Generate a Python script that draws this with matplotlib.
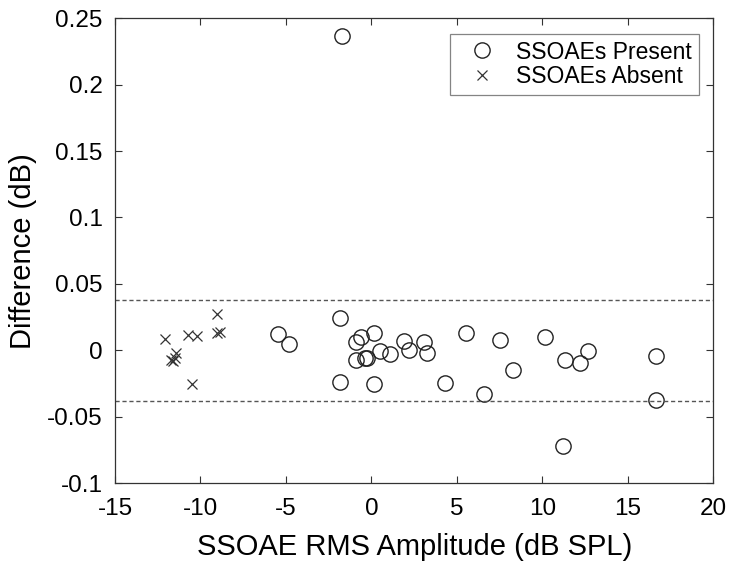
import matplotlib
matplotlib.use("Agg")
import matplotlib.pyplot as plt

plt.rcParams["font.family"] = ["Liberation Sans", "DejaVu Sans"]
plt.rcParams["axes.unicode_minus"] = False

# SSOAEs present (circles)
present_x = [-5.49, -4.81, -1.85, -1.85, -1.73, -0.89, -0.60, 0.14, -0.89, -0.35,
             -0.25, 0.49, 1.07, 1.93, 2.18, 3.06, 3.26, 0.16, 4.33, 5.56,
             6.57, 7.50, 8.28, 10.13, 11.18, 11.34, 12.18, 12.67, 16.64, 16.64]
present_y = [0.0121, 0.0045, 0.0246, -0.0242, 0.237, 0.0065, 0.0100, 0.0126, -0.0075, -0.0062,
             -0.0058, -0.0006, -0.0025, 0.0073, 0.0000, 0.0063, -0.0020, -0.0251, -0.0244, 0.0133,
             -0.0327, 0.0075, -0.0151, 0.0102, -0.0724, -0.0075, -0.0093, -0.0008, -0.0045, -0.0377]

# SSOAEs absent (crosses)
absent_x = [-12.08, -11.70, -11.58, -11.51, -11.45, -10.73, -10.18, -10.48, -9.06, -9.02, -8.87]
absent_y = [0.0082, -0.0070, -0.0080, -0.0055, -0.0020, 0.0118, 0.0105, -0.0251, 0.0272, 0.0128, 0.0138]

limit_hi = 0.038
limit_lo = -0.0385

fig = plt.figure(figsize=(7.31, 5.64), dpi=100)
ax = fig.add_axes([115 / 731, 1 - 483 / 564, 598.3 / 731, 464.7 / 564])

ax.plot(present_x, present_y, "o", ms=11, mfc="none", mec="#222222", mew=1.0,
        label="SSOAEs Present")
ax.plot(absent_x, absent_y, "x", ms=7.5, mec="#333333", mew=0.9,
        label="SSOAEs Absent")

ax.axhline(limit_hi, color="#555555", linestyle=(0, (3, 2)), linewidth=1.0)
ax.axhline(limit_lo, color="#555555", linestyle=(0, (3, 2)), linewidth=1.0)

ax.set_xlim(-15, 20)
ax.set_ylim(-0.1, 0.25)
ax.set_xticks(range(-15, 21, 5))
ax.set_yticks([-0.1, -0.05, 0, 0.05, 0.1, 0.15, 0.2, 0.25])
ax.set_yticklabels(["-0.1", "-0.05", "0", "0.05", "0.1", "0.15", "0.2", "0.25"])
ax.tick_params(direction="in", top=True, right=True, length=5, width=0.8,
               color="#333333", labelsize=17.5)
ax.tick_params(axis="x", pad=11)
ax.tick_params(axis="y", pad=9)
for s in ax.spines.values():
    s.set_color("#333333")
    s.set_linewidth(0.9)

ax.set_xlabel("SSOAE RMS Amplitude (dB SPL)", fontsize=21, labelpad=9)
ax.set_ylabel("Difference (dB)", fontsize=21, labelpad=7)

leg = ax.legend(loc="upper right", fontsize=16.5, frameon=True, fancybox=False,
                edgecolor="#666666", borderpad=0.3, labelspacing=0.05,
                handlelength=2.2, handletextpad=0.4, borderaxespad=0,
                bbox_to_anchor=(0.976, 0.967))
leg.get_frame().set_linewidth(0.9)

fig.savefig("out.png", dpi=100)
